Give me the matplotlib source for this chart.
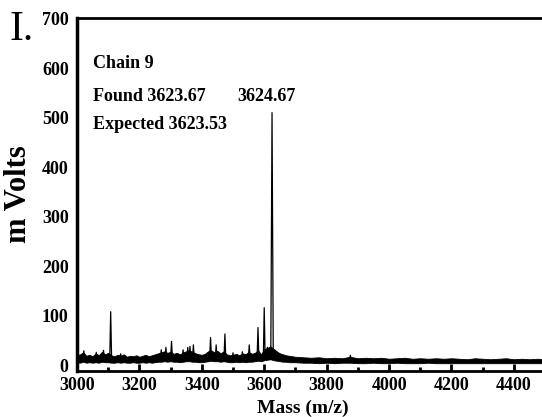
import matplotlib.pyplot as plt
import numpy as np

# --- Spectrum values (mass in m/z, signal in mV) ---
# noise band, 10 Da steps from 3000 to 3700
band_mass_a = np.arange(3000, 3701, 10)
band_high_a = [20, 22, 26, 19, 21, 18, 24, 20, 27, 22,
               25, 20, 18, 21, 19, 22, 17, 19, 18, 20,
               17, 19, 21, 18, 20, 22, 24, 26, 28, 25,
               27, 23, 25, 22, 26, 28, 30, 27, 24, 22,
               21, 23, 28, 30, 26, 29, 24, 28, 22, 20,
               21, 23, 20, 24, 22, 27, 23, 25, 30, 22,
               32, 35, 38, 33, 28, 24, 22, 20, 19, 18,
               17]
band_low_a = [6, 5, 7, 5, 6, 5, 6, 5, 7, 6,
              6, 5, 5, 6, 5, 6, 5, 5, 6, 5,
              5, 6, 5, 6, 5, 6, 7, 7, 8, 7,
              8, 7, 7, 6, 7, 8, 8, 7, 7, 6,
              6, 7, 8, 9, 8, 8, 7, 8, 7, 6,
              6, 7, 6, 7, 6, 7, 7, 8, 9, 8,
              10, 11, 12, 10, 9, 8, 7, 7, 6, 6,
              6]
# noise band, 25 Da steps from 3725 to 4500
band_mass_b = np.arange(3725, 4501, 25)
band_high_b = [16, 15, 16, 14, 15, 14, 17, 14, 15, 14,
               15, 13, 14, 15, 13, 14, 13, 14, 13, 14,
               13, 12, 14, 13, 12, 13, 14, 12, 13, 12,
               13, 12]
band_low_b = [5, 5, 4, 5, 4, 5, 5, 4, 4, 5,
              4, 4, 5, 4, 4, 4, 5, 4, 4, 4,
              4, 4, 4, 4, 4, 4, 4, 4, 4, 4,
              4, 4]

band_mass = np.concatenate([band_mass_a, band_mass_b])
band_high = np.array(band_high_a + band_high_b)
band_low = np.array(band_low_a + band_low_b)

# individual peaks
peak_mass = [3022, 3062, 3085, 3108, 3140, 3270, 3285, 3303, 3340, 3355,
             3362, 3373, 3428, 3446, 3474, 3500, 3530, 3552, 3580, 3600,
             3610, 3625, 3876]
peak_height = [29, 26, 30, 108, 23, 31, 36, 48, 31, 36,
               38, 41, 56, 41, 63, 25, 27, 41, 76, 116,
               36, 510, 20]

xticks = [3000, 3200, 3400, 3600, 3800, 4000, 4200, 4400]
yticks = [0, 100, 200, 300, 400, 500, 600, 700]

plt.rcParams['font.family'] = ['Liberation Serif', 'DejaVu Serif']
plt.rcParams['font.weight'] = 'bold'

fig = plt.figure(figsize=(5.42, 4.17), dpi=100)
ax = fig.add_axes([0.142, 0.110, 0.858, 0.848])

ax.fill_between(band_mass, band_low, band_high, color='black', linewidth=0.6)
for m, h in zip(peak_mass, peak_height):
    w = 4 if h > 200 else 3
    ax.plot([m - w, m, m + w], [12, h, 12], color='black', linewidth=0.9)

ax.set_xlim(3000, 4490)
ax.set_ylim(-12, 702)
ax.set_xticks(xticks)
ax.set_xticks(np.arange(3100, 4490, 200), minor=True)
ax.set_yticks(yticks)

ax.tick_params(axis='x', which='major', direction='in', length=5, width=2,
               labelsize=13, pad=4)
ax.tick_params(axis='x', which='minor', direction='in', length=3, width=2)
ax.tick_params(axis='y', length=0, labelsize=13, pad=6)
for lab in ax.get_xticklabels() + ax.get_yticklabels():
    lab.set_fontweight('bold')

ax.spines['right'].set_visible(False)
ax.spines['left'].set_linewidth(2.5)
ax.spines['top'].set_linewidth(2)
ax.spines['bottom'].set_linewidth(2)

ax.set_ylabel('m Volts', fontsize=22, fontweight='bold')
ax.yaxis.set_label_coords(-0.095, 0.5)
ax.set_xlabel('Mass (m/z)', fontsize=14, fontweight='bold')
ax.xaxis.set_label_coords(0.485, -0.08)

ax.text(3052, 610, 'Chain 9', fontsize=13, fontweight='bold', va='center')
ax.text(3052, 543, 'Found 3623.67', fontsize=13, fontweight='bold', va='center')
ax.text(3052, 485, 'Expected 3623.53', fontsize=13, fontweight='bold', va='center')
ax.text(3515, 543, '3624.67', fontsize=13, fontweight='bold', va='center')

fig.text(0.018, 0.905, 'I.', fontsize=30, fontweight='normal')

fig.savefig('out.png', dpi=100)
